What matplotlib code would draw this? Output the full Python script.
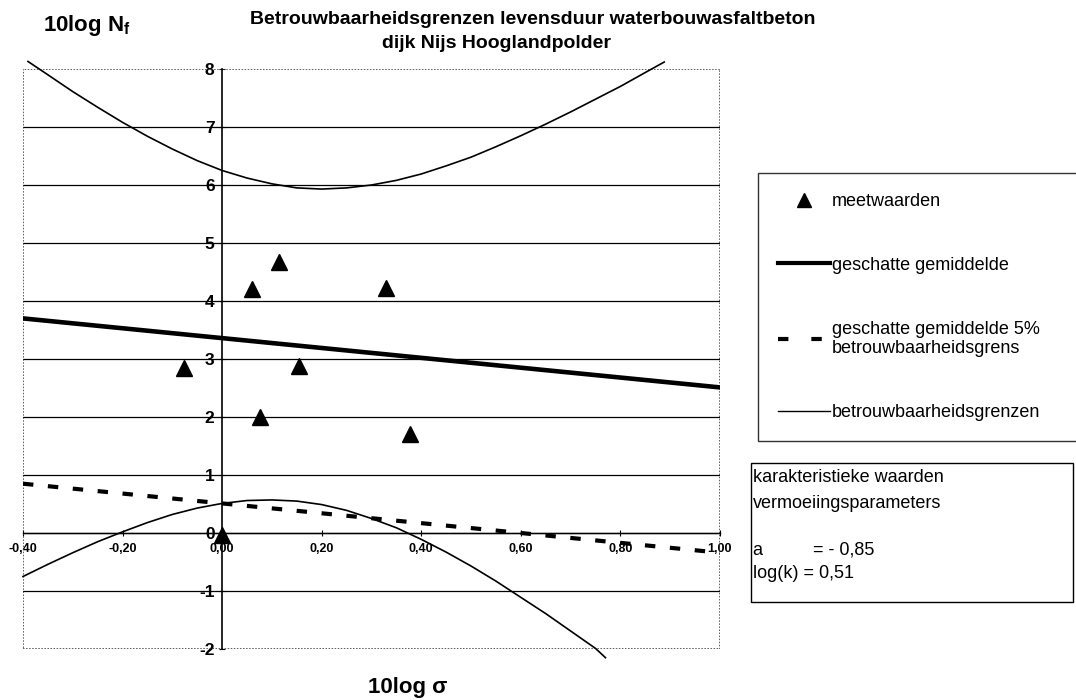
import matplotlib
matplotlib.use("Agg")
import matplotlib.pyplot as plt
from matplotlib.lines import Line2D
from matplotlib.patches import Rectangle
from matplotlib.ticker import FuncFormatter

plt.rcParams['font.family'] = ['Liberation Sans', 'DejaVu Sans']
plt.rcParams['mathtext.default'] = 'regular'

# measured points (10log sigma, 10log Nf)
meas_x = [-0.076, 0.06, 0.114, 0.33, 0.154, 0.076, 0.378, 0.0]
meas_y = [2.85, 4.20, 4.67, 4.22, 2.88, 2.00, 1.71, -0.03]

# estimated mean and 5% line
mean_x = [-0.40, 1.00]
mean_y = [3.70, 2.51]
lim5_x = [-0.40, 1.00]
lim5_y = [0.85, -0.34]

# confidence bounds
upper_x = [-0.39, -0.35, -0.30, -0.25, -0.20, -0.15, -0.10, -0.05, 0.00, 0.05,
           0.10, 0.15, 0.20, 0.25, 0.30, 0.35, 0.40, 0.45, 0.50, 0.55,
           0.60, 0.65, 0.70, 0.75, 0.80, 0.85, 0.888]
upper_y = [8.13, 7.90, 7.61, 7.34, 7.08, 6.84, 6.62, 6.42, 6.25, 6.12,
           6.02, 5.95, 5.93, 5.95, 6.00, 6.08, 6.19, 6.33, 6.48, 6.66,
           6.85, 7.05, 7.26, 7.48, 7.70, 7.94, 8.12]
lower_x = [-0.40, -0.35, -0.30, -0.25, -0.20, -0.15, -0.10, -0.05, 0.00, 0.05,
           0.10, 0.15, 0.20, 0.25, 0.30, 0.35, 0.40, 0.45, 0.50, 0.55,
           0.60, 0.65, 0.70, 0.75, 0.77]
lower_y = [-0.75, -0.54, -0.34, -0.15, 0.02, 0.18, 0.32, 0.43, 0.51, 0.56,
           0.57, 0.55, 0.49, 0.39, 0.25, 0.09, -0.11, -0.33, -0.57, -0.83,
           -1.11, -1.39, -1.69, -1.99, -2.15]

x_ticks = [-0.4, -0.2, 0.0, 0.2, 0.4, 0.6, 0.8, 1.0]
y_ticks = [-2, -1, 0, 1, 2, 3, 4, 5, 6, 7, 8]

fig = plt.figure(figsize=(10.76, 7.0), dpi=100)
ax = fig.add_axes([23 / 1076, 1 - 649 / 700, 697 / 1076, 580 / 700])
ax.set_xlim(-0.4, 1.0)
ax.set_ylim(-2, 8)

# axes cross at the origin, dotted frame round the plot area
ax.spines['left'].set_position(('data', 0))
ax.spines['bottom'].set_position(('data', 0))
ax.spines['left'].set_linewidth(1.2)
ax.spines['bottom'].set_linewidth(1.0)
ax.spines['top'].set_visible(False)
ax.spines['right'].set_visible(False)
ax.add_patch(Rectangle((0, 0), 1, 1, transform=ax.transAxes, fill=False,
                       ls=(0, (1, 1)), ec='0.2', lw=1.1, zorder=1))

ax.set_xticks(x_ticks)
ax.set_yticks(y_ticks)
ax.xaxis.set_major_formatter(FuncFormatter(lambda v, p: f"{v:.2f}".replace('.', ',')))
ax.yaxis.set_major_formatter(FuncFormatter(lambda v, p: f"{v:.0f}"))
ax.tick_params(axis='x', direction='inout', length=5, labelsize=9, pad=5)
ax.tick_params(axis='y', direction='inout', length=5, labelsize=12.5, pad=3)
for lab in ax.get_xticklabels() + ax.get_yticklabels():
    lab.set_fontweight('bold')
ax.yaxis.grid(True, color='black', lw=0.9)
ax.set_axisbelow(True)
# top and bottom edges stay dotted
gl = ax.yaxis.get_gridlines()
gl[0].set_visible(False)
gl[-1].set_visible(False)

ax.plot(upper_x, upper_y, color='black', lw=1.2, clip_on=False, zorder=3)
ax.plot(lower_x, lower_y, color='black', lw=1.2, clip_on=False, zorder=3)
ax.plot(mean_x, mean_y, color='black', lw=3.3, zorder=3)
ax.plot(lim5_x, lim5_y, color='black', lw=3.0, dashes=(2.5, 3.5), zorder=3)
ax.plot(meas_x, meas_y, ls='none', marker='^', ms=12, color='black', zorder=4,
        clip_on=False)

# titles
fig.text(533 / 1076, 1 - 20 / 700, "Betrouwbaarheidsgrenzen levensduur waterbouwasfaltbeton",
         ha='center', va='center', fontsize=14, fontweight='bold')
fig.text(496 / 1076, 1 - 43 / 700, "dijk Nijs Hooglandpolder",
         ha='center', va='center', fontsize=14, fontweight='bold')
fig.text(43 / 1076, 1 - 25 / 700, r"10log N$_\mathregular{f}$",
         ha='left', va='center', fontsize=16, fontweight='bold')
fig.text(408 / 1076, 1 - 688 / 700, "10log σ",
         ha='center', va='center', fontsize=16, fontweight='bold')

# legend
handles = [
    Line2D([], [], ls='none', marker='^', ms=10, color='black'),
    Line2D([], [], color='black', lw=3.0),
    Line2D([], [], color='black', lw=3.0, dashes=(2.5, 5.5)),
    Line2D([], [], color='black', lw=1.0),
]
labels = ["meetwaarden", "geschatte gemiddelde",
          "geschatte gemiddelde 5%\nbetrouwbaarheidsgrens", "betrouwbaarheidsgrenzen"]
leg = fig.legend(handles, labels, loc='upper left', mode='expand',
                 bbox_to_anchor=(758 / 1076, 1 - 173 / 700, 330 / 1076, 0.0),
                 fontsize=13, frameon=True, fancybox=False, edgecolor='black',
                 borderpad=1.1, labelspacing=2.6, handlelength=2.9,
                 handletextpad=0.1, borderaxespad=0)
leg.get_frame().set_linewidth(1.0)

# parameter box
fig.patches.append(Rectangle((751 / 1076, 1 - 602 / 700), 322 / 1076, 139 / 700,
                             transform=fig.transFigure, fill=False, ec='black', lw=1.0))
fig.text(753 / 1076, 1 - 477 / 700, "karakteristieke waarden", va='center', fontsize=13)
fig.text(753 / 1076, 1 - 503 / 700, "vermoeiingsparameters", va='center', fontsize=13)
fig.text(753 / 1076, 1 - 550 / 700, "a          = - 0,85", va='center', fontsize=13)
fig.text(753 / 1076, 1 - 573 / 700, "log(k) = 0,51", va='center', fontsize=13)

fig.savefig("out.png", dpi=100)
